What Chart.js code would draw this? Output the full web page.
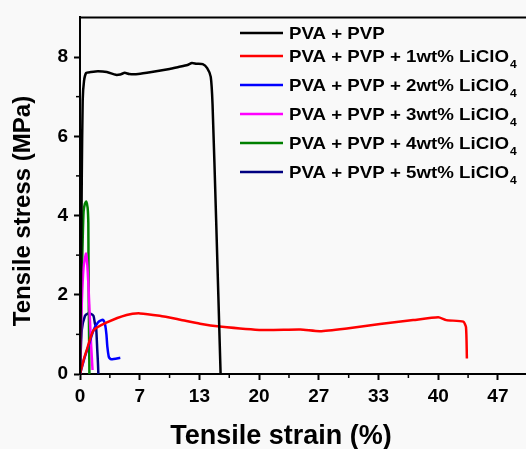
<!DOCTYPE html>
<html lang="en">
<head>
    <meta charset="UTF-8">
    <title>Tensile stress vs strain</title>
    <script src="https://cdn.jsdelivr.net/npm/chart.js"></script>
    <style>
        body { margin: 0; background: #f9f9f9; }
        #wrap { width: 526px; height: 449px; }
    </style>
</head>
<body>
    <div id="wrap"><canvas id="stressChart" width="526" height="449"></canvas></div>

    <script>
        // strain (%) and stress (MPa)
        const pvaStrain = [0, 0.1, 0.2, 0.3, 0.45, 0.7, 1.2, 2, 3, 4, 4.5, 5, 5.5, 6.5, 8, 10, 11, 12, 12.5, 13, 13.7, 14.2, 14.6, 14.8, 15.2, 15.7];
        const pvaStress = [0, 2, 5, 6.9, 7.4, 7.6, 7.62, 7.64, 7.62, 7.55, 7.56, 7.6, 7.57, 7.57, 7.62, 7.7, 7.75, 7.8, 7.85, 7.83, 7.82, 7.72, 7.5, 6.8, 3.9, 0];

        const li1Strain = [0, 0.4, 0.75, 1.5, 3, 5.2, 6.7, 8.9, 11.2, 13.4, 15.6, 20.4, 24.6, 26.8, 29.8, 33.5, 37.2, 40, 40.9, 42.8, 43.1, 43.2];
        const li1Stress = [0, 0.35, 0.6, 1.1, 1.3, 1.49, 1.53, 1.47, 1.37, 1.27, 1.2, 1.11, 1.12, 1.08, 1.15, 1.26, 1.36, 1.43, 1.36, 1.32, 1.18, 0.39];

        const li2Strain = [0, 0.5, 0.93, 1.5, 2.0, 2.4, 2.6, 2.8, 2.95, 3.05, 3.2, 3.3, 3.5, 4.5];
        const li2Stress = [0, 0.4, 0.7, 1.1, 1.3, 1.36, 1.36, 1.25, 1.0, 0.7, 0.45, 0.4, 0.37, 0.41];

        const li3Strain = [0, 0.05, 0.2, 0.4, 0.67, 0.8, 0.95, 1.1, 1.25, 1.4];
        const li3Stress = [0, 0.5, 1.8, 2.7, 3.04, 2.8, 2.2, 1.4, 0.7, 0.1];

        const li4Strain = [0, 0.1, 0.2, 0.3, 0.4, 0.55, 0.7, 0.85, 0.93, 0.95, 0.98, 1.02, 1.05];
        const li4Stress = [0, 1, 2.4, 3.4, 4.1, 4.3, 4.35, 4.2, 3.8, 2.8, 1.8, 0.8, 0];

        const li5Strain = [0, 0.19, 0.56, 0.93, 1.1, 1.5, 1.67, 1.8, 1.93, 2.0, 2.05];
        const li5Stress = [0, 1.1, 1.47, 1.53, 1.53, 1.47, 1.27, 1.18, 0.6, 0.3, 0];

        const seriesLabels = ['PVA + PVP', 'PVA + PVP + 1wt% LiClO₄', 'PVA + PVP + 2wt% LiClO₄',
            'PVA + PVP + 3wt% LiClO₄', 'PVA + PVP + 4wt% LiClO₄', 'PVA + PVP + 5wt% LiClO₄'];
        const seriesColors = ['#000000', '#ff0000', '#0000ff', '#ff00ff', '#008000', '#000080'];

        const xTicks = [0, 20 / 3, 40 / 3, 20, 80 / 3, 100 / 3, 40, 140 / 3];
        const yTicks = [0, 2, 4, 6, 8];
        const xTitle = 'Tensile strain (%)';
        const yTitle = 'Tensile stress (MPa)';

        const zip = (xs, ys) => xs.map((x, i) => ({ x: x, y: ys[i] }));
        const allX = [pvaStrain, li1Strain, li2Strain, li3Strain, li4Strain, li5Strain];
        const allY = [pvaStress, li1Stress, li2Stress, li3Stress, li4Stress, li5Stress];

        const font = 'Liberation Sans, Arial, sans-serif';

        // minor ticks, top frame line, axis titles and the legend
        const extras = {
            id: 'extras',
            afterDraw(chart) {
                const ctx = chart.ctx;
                const xs = chart.scales.x, ys = chart.scales.y;
                const area = chart.chartArea;
                ctx.save();
                ctx.strokeStyle = '#000';
                ctx.lineWidth = 2;
                ctx.beginPath();
                ctx.moveTo(area.left - 1, area.top);
                ctx.lineTo(area.right, area.top);
                ctx.stroke();
                ctx.lineWidth = 1.5;
                for (let v = 10 / 3; v < xs.max; v += 20 / 3) {
                    const px = xs.getPixelForValue(v);
                    ctx.beginPath();
                    ctx.moveTo(px, area.bottom);
                    ctx.lineTo(px, area.bottom + 4);
                    ctx.stroke();
                }
                for (let v = 1; v < ys.max; v += 2) {
                    const py = ys.getPixelForValue(v);
                    ctx.beginPath();
                    ctx.moveTo(area.left, py);
                    ctx.lineTo(area.left - 4, py);
                    ctx.stroke();
                }

                // axis titles (the figure has them off-centre)
                ctx.fillStyle = '#000';
                ctx.textAlign = 'center';
                ctx.textBaseline = 'middle';
                ctx.font = 'bold 27px ' + font;
                ctx.fillText(xTitle, 281, 437);
                ctx.save();
                ctx.translate(23, 211);
                ctx.rotate(-Math.PI / 2);
                ctx.font = 'bold 24px ' + font;
                ctx.fillText(yTitle, 0, 0);
                ctx.restore();

                // legend (text a little wider than the font, as in the figure)
                ctx.textAlign = 'left';
                chart.data.datasets.forEach((ds, i) => {
                    const y = i === 0 ? 33 : 56 + (i - 1) * 29;
                    const x0 = area.left + 160;
                    ctx.strokeStyle = ds.borderColor;
                    ctx.lineWidth = 2.5;
                    ctx.beginPath();
                    ctx.moveTo(x0, y);
                    ctx.lineTo(x0 + 43, y);
                    ctx.stroke();
                    const parts = ds.label.split('₄');
                    ctx.save();
                    ctx.translate(x0 + 49, y + 1);
                    ctx.scale(1.1, 1);
                    ctx.font = 'bold 17px ' + font;
                    ctx.fillText(parts[0], 0, 0);
                    if (parts.length > 1) {
                        const w = ctx.measureText(parts[0]).width;
                        ctx.font = 'bold 11px ' + font;
                        ctx.fillText('4', w + 1, 8);
                    }
                    ctx.restore();
                });
                ctx.restore();
            }
        };

        const ctx = document.getElementById('stressChart').getContext('2d');
        new Chart(ctx, {
            type: 'line',
            data: {
                datasets: seriesLabels.map((label, i) => ({
                    label: label,
                    data: zip(allX[i], allY[i]),
                    borderColor: seriesColors[i],
                    borderWidth: 2.5,
                    pointRadius: 0,
                    tension: 0.2,
                    fill: false
                }))
            },
            options: {
                responsive: false,
                animation: false,
                layout: { padding: { top: 15, right: 0, left: 0, bottom: 0 } },
                plugins: {
                    legend: { display: false },
                    tooltip: { enabled: false }
                },
                scales: {
                    x: {
                        type: 'linear',
                        min: 0,
                        max: 49.8,
                        afterBuildTicks: scale => { scale.ticks = xTicks.map(v => ({ value: v })); },
                        afterFit: scale => { scale.height = 75; },
                        grid: { drawOnChartArea: false, tickLength: 6, tickWidth: 2, tickColor: '#000' },
                        border: { color: '#000', width: 2 },
                        ticks: {
                            color: '#000',
                            padding: 5,
                            maxRotation: 0,
                            font: { family: font, size: 19, weight: 'bold' },
                            callback: v => Math.round(v)
                        }
                    },
                    y: {
                        min: 0,
                        max: 9,
                        afterBuildTicks: scale => { scale.ticks = yTicks.map(v => ({ value: v })); },
                        afterFit: scale => { scale.width = 80; },
                        grid: { drawOnChartArea: false, tickLength: 6, tickWidth: 2, tickColor: '#000' },
                        border: { color: '#000', width: 2 },
                        ticks: {
                            color: '#000',
                            padding: 6,
                            font: { family: font, size: 19, weight: 'bold' }
                        }
                    }
                }
            },
            plugins: [extras]
        });
    </script>
</body>
</html>
